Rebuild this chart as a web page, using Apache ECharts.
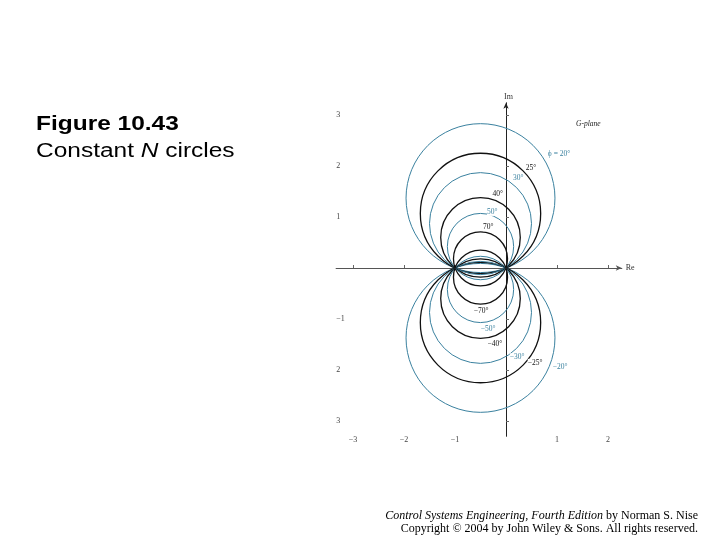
<!DOCTYPE html>
<html>
<head>
<meta charset="utf-8">
<script src="https://cdn.jsdelivr.net/npm/echarts@6/dist/echarts.min.js"></script>
<style>
html,body{margin:0;padding:0;background:#fff;}
#chart{width:720px;height:540px;}
</style>
</head>
<body>
<div id="chart"></div>
<script>
// ---- data ----
var phaseDeg   = [20, 25, 30, 40, 50, 70, -20, -25, -30, -40, -50, -70];
var centerX    = [-0.5, -0.5, -0.5, -0.5, -0.5, -0.5, -0.5, -0.5, -0.5, -0.5, -0.5, -0.5];
var centerY    = [1.37, 1.07, 0.87, 0.60, 0.42, 0.18, -1.37, -1.07, -0.87, -0.60, -0.42, -0.18];
var radius     = [1.46, 1.18, 1.00, 0.78, 0.65, 0.53, 1.46, 1.18, 1.00, 0.78, 0.65, 0.53];
var labelText  = ['\u03d5 = 20\u00b0', '25\u00b0', '30\u00b0', '40\u00b0', '50\u00b0', '70\u00b0',
                  '\u221220\u00b0', '\u221225\u00b0', '\u221230\u00b0', '\u221240\u00b0', '\u221250\u00b0', '\u221270\u00b0'];
var labelX     = [1.04, 0.49, 0.24, -0.16, -0.27, -0.35, 1.06, 0.57, 0.22, -0.22, -0.35, -0.49];
var labelY     = [2.24, 1.96, 1.76, 1.45, 1.10, 0.80, -1.94, -1.86, -1.75, -1.49, -1.20, -0.84];
var xTickValues = [-3, -2, -1, 1, 2];
var xTickLabels = ['\u22123', '\u22122', '\u22121', '1', '2'];
var yTickValues = [3, 2, 1, -1, -2, -3];
var yTickLabels = ['3', '2', '1', '\u22121', '2', '3'];

// ---- styling ----
var BLUE = '#3a819f', BLACK = '#111';
function colorFor(i){ var a = Math.abs(phaseDeg[i]); return (a===20||a===30||a===50) ? BLUE : BLACK; }

var xMin = -3.33, xMax = 2.27, yMin = -3.3, yMax = 3.24;
var unit = 51;
var originX = 506, originY = 268;

var circleData = phaseDeg.map(function(p, i){ return [centerX[i], centerY[i], radius[i], i]; });
var labelData = labelText.map(function(t, i){ return [labelX[i], labelY[i], i]; });

var chart = echarts.init(document.getElementById('chart'), null, {renderer:'canvas'});
var tickFont = {fontFamily:'Liberation Serif', fontSize:8, color:'#444'};

chart.setOption({
  backgroundColor:'#fff',
  animation:false,
  grid:{left: originX + xMin*unit, top: originY - yMax*unit,
        width:(xMax-xMin)*unit, height:(yMax-yMin)*unit, containLabel:false},
  xAxis:[
    {type:'value', min:xMin, max:xMax, position:'bottom', axisLine:{show:false, onZero:false},
     axisTick:{show:false}, splitLine:{show:false},
     axisLabel:Object.assign({show:true, margin:0, customValues:xTickValues,
        formatter:function(v){ var k = xTickValues.indexOf(v); return k>=0 ? xTickLabels[k] : ''; }}, tickFont)},
    {type:'value', min:xMin, max:xMax, position:'bottom',
     name:'Re', nameLocation:'end', nameGap:4,
     nameTextStyle:{fontFamily:'Liberation Serif', fontSize:8, color:'#333'},
     axisLine:{show:true, onZero:true, symbol:['none','arrow'], symbolSize:[4,6], lineStyle:{color:'#555', width:1.2}},
     axisTick:{show:true, inside:true, length:3, customValues:xTickValues, lineStyle:{color:'#666'}},
     axisLabel:{show:false}, splitLine:{show:false}}
  ],
  yAxis:[
    {type:'value', min:yMin, max:yMax, position:'left', axisLine:{show:false, onZero:false},
     axisTick:{show:false}, splitLine:{show:false},
     axisLabel:Object.assign({show:true, inside:true, margin:0, customValues:yTickValues,
        formatter:function(v){ var k = yTickValues.indexOf(v); return k>=0 ? yTickLabels[k] : ''; }}, tickFont)},
    {type:'value', min:yMin, max:yMax, position:'left',
     name:'Im', nameLocation:'end', nameGap:2,
     nameTextStyle:{fontFamily:'Liberation Serif', fontSize:8, color:'#333', align:'left', padding:[0,0,0,-2]},
     axisLine:{show:true, onZero:true, symbol:['none','arrow'], symbolSize:[4,6], lineStyle:{color:'#222', width:1}},
     axisTick:{show:true, inside:true, length:3, customValues:[-3,-2,-1,1,2,3], lineStyle:{color:'#666'}},
     axisLabel:{show:false}, splitLine:{show:false}}
  ],
  series:[
    {type:'custom', xAxisIndex:0, yAxisIndex:0, data:circleData, silent:true,
     renderItem:function(params, api){
       var c = api.coord([api.value(0), api.value(1)]);
       var r = api.size([api.value(2), 0])[0];
       var i = api.value(3);
       var col = colorFor(i);
       return {type:'circle', shape:{cx:c[0], cy:c[1], r:r},
               style:{fill:null, stroke:col, lineWidth: col===BLUE ? 1 : 1.3}};
     }},
    {type:'custom', xAxisIndex:0, yAxisIndex:0, data:labelData, silent:true,
     renderItem:function(params, api){
       var c = api.coord([api.value(0), api.value(1)]);
       var i = api.value(2);
       return {type:'text', x:c[0], y:c[1],
               style:{text:labelText[i], fill:colorFor(i), font:'7.5px "Liberation Serif"',
                      align:'center', verticalAlign:'middle', backgroundColor:'#fff'}};
     }}
  ],
  graphic:[
    {type:'text', x:36, y:115, scaleX:1.255, style:{text:'Figure 10.43', font:'bold 19.5px "Liberation Sans"', fill:'#000', align:'left', verticalAlign:'top'}},
    {type:'text', x:36, y:142, scaleX:1.255, style:{
       text:'Constant {i|N} circles', font:'19.5px "Liberation Sans"', fill:'#000', align:'left', verticalAlign:'top',
       rich:{i:{font:'italic 19.5px "Liberation Sans"', fill:'#000'}}}},
    {type:'text', left:576, top:120, style:{text:'G-plane', font:'italic 7.5px "Liberation Serif"', fill:'#222'}},
    {type:'text', right:22, top:510, style:{
       text:'{i|Control Systems Engineering, Fourth Edition} by Norman S. Nise',
       font:'12px "Liberation Serif"', fill:'#000',
       rich:{i:{font:'italic 12px "Liberation Serif"', fill:'#000'}}}},
    {type:'text', right:22, top:523, style:{
       text:'Copyright \u00a9 2004 by John Wiley & Sons. All rights reserved.',
       font:'12px "Liberation Serif"', fill:'#000'}}
  ]
});
</script>
</body>
</html>
